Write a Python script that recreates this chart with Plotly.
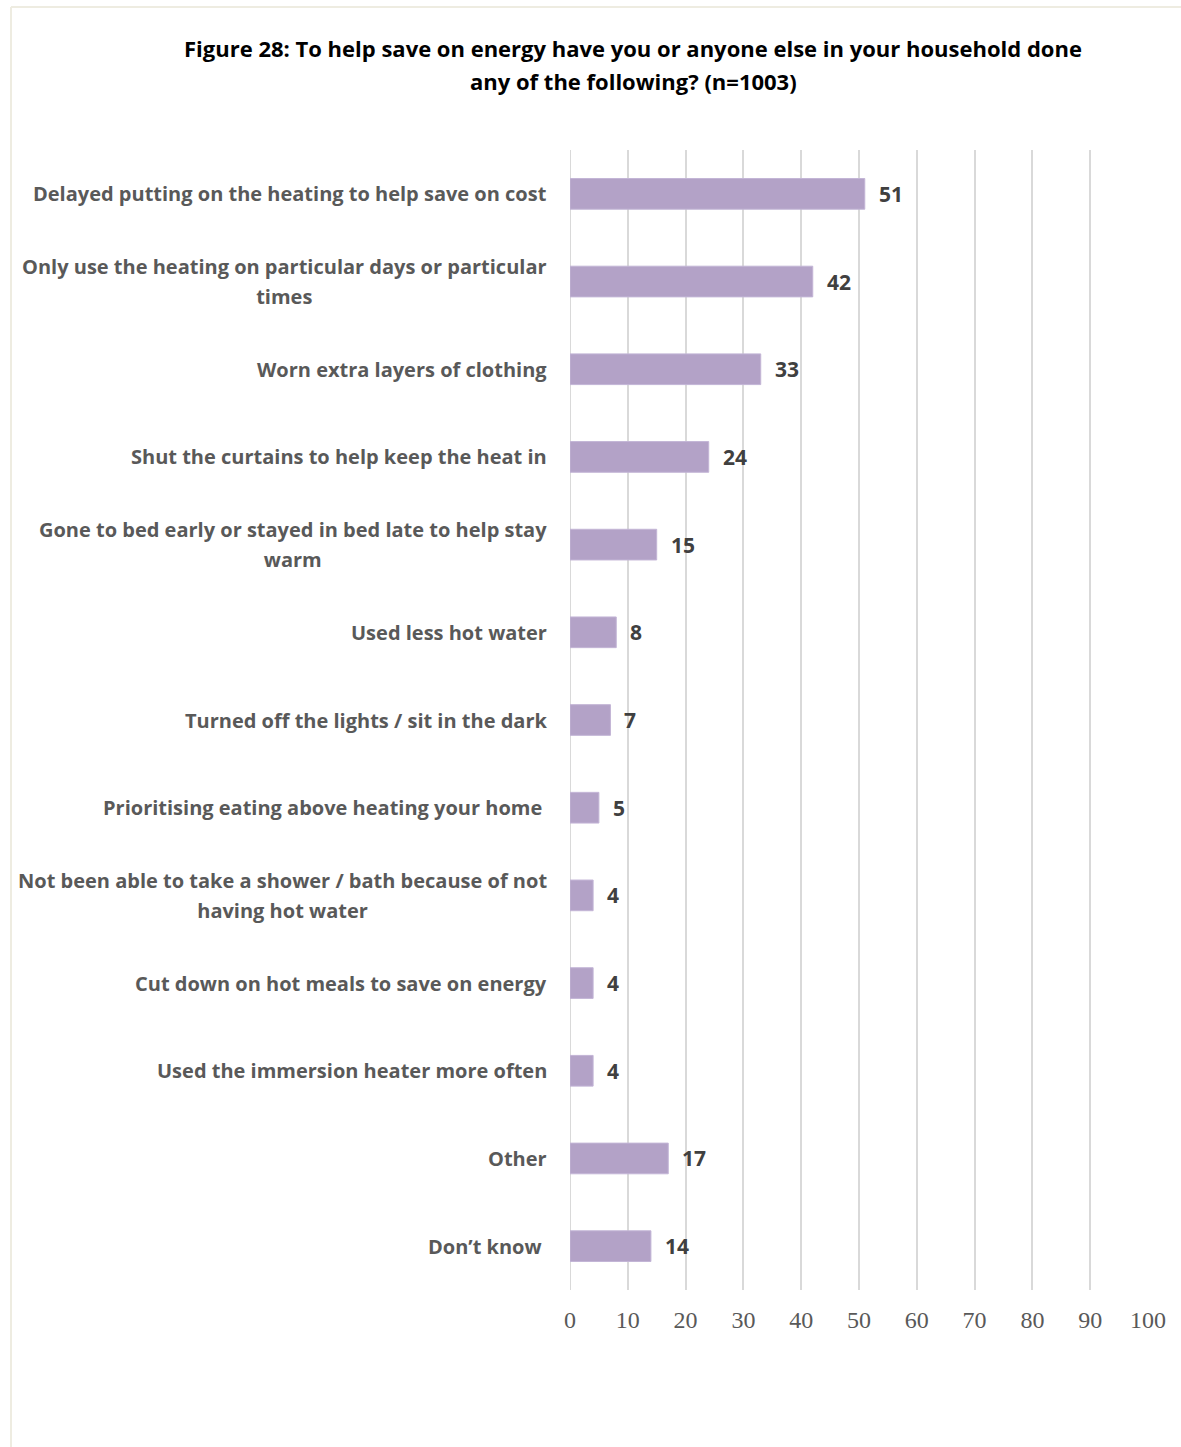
import plotly.graph_objects as go

# Survey answers (share of respondents, %)
categories = [
    "Delayed putting on the heating to help save on cost",
    "Only use the heating on particular days or particular<br>times",
    "Worn extra layers of clothing",
    "Shut the curtains to help keep the heat in",
    "Gone to bed early or stayed in bed late to help stay<br>warm",
    "Used less hot water",
    "Turned off the lights / sit in the dark",
    "Prioritising eating above heating your home\u00a0",
    "Not been able to take a shower / bath because of not<br>having hot water",
    "Cut down on hot meals to save on energy",
    "Used the immersion heater more often",
    "Other",
    "Don\u2019t know\u00a0",
]
values = [51, 42, 33, 24, 15, 8, 7, 5, 4, 4, 4, 17, 14]
x_ticks = [0, 10, 20, 30, 40, 50, 60, 70, 80, 90, 100]
title_lines = [
    "Figure 28: To help save on energy have you or anyone else in your household done",
    "any of the following? (n=1003)",
]

W, H = 1181, 1447
L, R, T, B = 570, 33, 150, 157
pw, ph = W - L - R, H - T - B

LABEL_FONT = "Open Sans"
LABEL_SIZE = 20
LINE_GAP = 30  # distance between wrapped label lines, px
BAR_COLOR = "#B3A2C7"
GRID = "#D9D9D9"


def py(pix):
    """Convert a pixel row from the top of the figure into paper y."""
    return 1 + (T - pix) / ph


fig = go.Figure()
fig.add_trace(go.Bar(
    x=values,
    y=categories,
    orientation="h",
    marker=dict(color=BAR_COLOR, line=dict(color="#C3B5D6", width=1)),
    width=0.35,
    hoverinfo="skip",
))

annotations = []
# Value labels at the end of each bar
for c, v in zip(categories, values):
    annotations.append(dict(
        x=v, y=c, xref="x", yref="y", text=f"<b>{v}</b>", showarrow=False,
        xanchor="left", xshift=12,
        font=dict(family=LABEL_FONT, size=21, color="#404040"),
    ))

# Category labels: block right-aligned to the axis, wrapped lines centred.
# The annotation font size sets plotly's line pitch (1.3em); the spans set
# the visible glyph size.
pitch_size = LINE_GAP / 1.3
for c in categories:
    lines = c.split("<br>")
    text = "<br>".join(
        f"<span style='font-size:{LABEL_SIZE}px'><b>{s}</b></span>" for s in lines
    )
    annotations.append(dict(
        x=0, y=c, xref="paper", yref="y", text=text, showarrow=False,
        xanchor="right", xshift=-21, align="center",
        font=dict(family=LABEL_FONT, size=pitch_size, color="#595959"),
    ))

# Title lines
for i, t in enumerate(title_lines):
    annotations.append(dict(
        x=(633 - L) / pw, y=py(48 + 33 * i), xref="paper", yref="paper",
        text=f"<b>{t}</b>", showarrow=False, xanchor="center", yanchor="middle",
        font=dict(family=LABEL_FONT, size=22, color="#000000"),
    ))

# Outer frame (left and top edges)
bx = (11 - L) / pw
shapes = [
    dict(type="line", xref="paper", yref="paper", x0=bx, x1=bx, y0=-B / ph, y1=py(7),
         line=dict(color="#EEECE1", width=2)),
    dict(type="line", xref="paper", yref="paper", x0=bx, x1=1 + R / pw, y0=py(7), y1=py(7),
         line=dict(color="#EEECE1", width=2)),
]

fig.update_layout(
    width=W, height=H,
    margin=dict(l=L, r=R, t=T, b=B),
    paper_bgcolor="white", plot_bgcolor="white",
    showlegend=False,
    xaxis=dict(
        range=[0, 100], tickvals=x_ticks, showgrid=True, gridcolor=GRID, gridwidth=2,
        zeroline=False, showline=False, ticks="",
        tickfont=dict(family="Liberation Serif", size=24, color="#595959"),
        ticklabelstandoff=13,
    ),
    yaxis=dict(
        autorange="reversed", showticklabels=False, showgrid=False, zeroline=False,
        showline=False, ticks="",
    ),
    annotations=annotations,
    shapes=shapes,
)

fig.add_vline(x=0, line=dict(color=GRID, width=2), layer="below")

fig.write_html("out.html")
